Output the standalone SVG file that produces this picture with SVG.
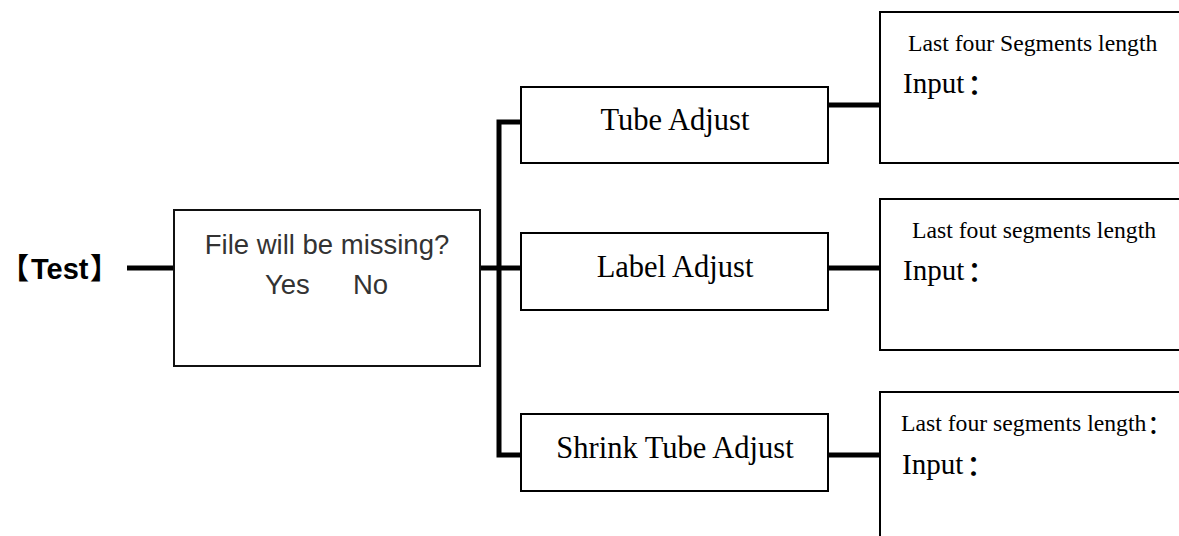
<svg xmlns="http://www.w3.org/2000/svg" width="1179" height="536" viewBox="0 0 1179 536">
<style>
.box{fill:#fff;stroke:#000;stroke-width:2}
.dbox{fill:#fff;stroke:#111;stroke-width:2}
.conn{stroke:#000;stroke-width:5;fill:none;stroke-linecap:butt}
.sans{font-family:"Liberation Sans",Arial,"Noto Sans CJK SC",sans-serif}
.serif{font-family:"Liberation Serif","Times New Roman","Noto Sans CJK SC",serif;fill:#000}
.q{font-size:27.5px;fill:#333}
.mid{font-size:30.5px}
.small{font-size:23.7px}
.inp{font-size:29px}
.col{font-weight:500}
</style>
<rect width="1179" height="536" fill="#fff"/>
<g id="connectors">
<line class="conn" x1="127" y1="268" x2="175" y2="268"/>
<line class="conn" x1="480" y1="268" x2="522" y2="268"/>
<polyline class="conn" points="522,122 499,122 499,455 522,455"/>
<line class="conn" x1="828" y1="105" x2="881" y2="105"/>
<line class="conn" x1="828" y1="268" x2="881" y2="268"/>
<line class="conn" x1="828" y1="455" x2="881" y2="455"/>
</g>
<g id="test">
<text class="sans" y="279" font-size="29" font-weight="bold" fill="#000"><tspan x="0">【</tspan><tspan x="31">Test</tspan><tspan x="90">】</tspan></text>
</g>
<g id="decision">
<rect class="dbox" x="174" y="210" width="306" height="156"/>
<text class="sans q" x="327" y="254" text-anchor="middle">File will be missing?</text>
<text class="sans q" x="265" y="294">Yes</text>
<text class="sans q" x="353" y="294">No</text>
</g>
<g id="tube">
<rect class="box" x="521" y="87" width="307" height="76"/>
<text class="serif mid" x="675" y="130" text-anchor="middle">Tube Adjust</text>
</g>
<g id="label">
<rect class="box" x="521" y="233" width="307" height="77"/>
<text class="serif mid" x="675" y="277" text-anchor="middle">Label Adjust</text>
</g>
<g id="shrink">
<rect class="box" x="521" y="414" width="307" height="77"/>
<text class="serif mid" x="675" y="458" text-anchor="middle">Shrink Tube Adjust</text>
</g>
<g id="input1">
<rect class="box" x="880" y="12" width="310" height="151"/>
<text class="serif small" x="908" y="51">Last four Segments length</text>
<text class="serif inp" x="903" y="93">Input<tspan class="col" dx="3" dy="2">：</tspan></text>
</g>
<g id="input2">
<rect class="box" x="880" y="199" width="310" height="151"/>
<text class="serif small" x="912" y="238">Last fout segments length</text>
<text class="serif inp" x="903" y="280">Input<tspan class="col" dx="3" dy="2">：</tspan></text>
</g>
<g id="input3">
<rect class="box" x="880" y="392" width="310" height="160"/>
<text class="serif small" x="901" y="431">Last four segments length<tspan class="col" dx="1" dy="1.5">：</tspan></text>
<text class="serif inp" x="902" y="474">Input<tspan class="col" dx="3" dy="2">：</tspan></text>
</g>
</svg>
